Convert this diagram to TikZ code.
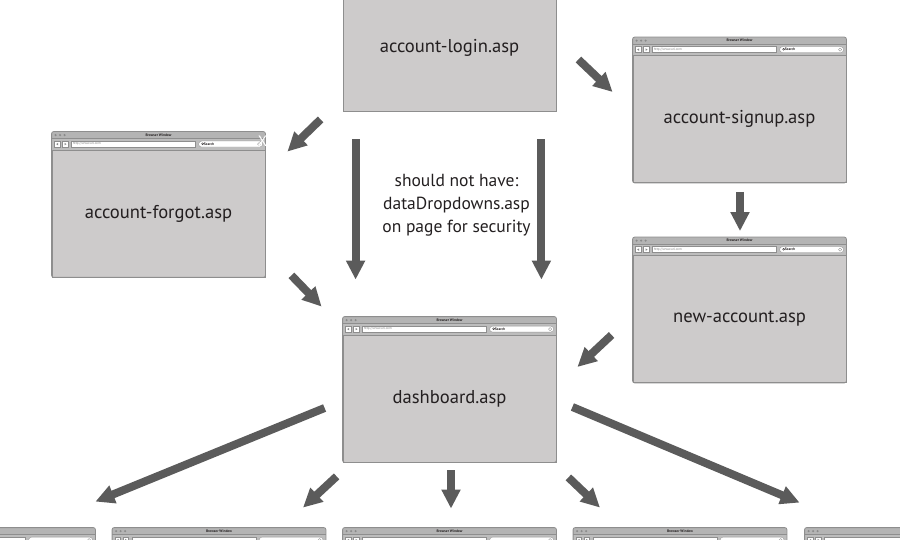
\documentclass[tikz,border=0pt]{standalone}
\usepackage{fontspec}
\setmainfont{PT Sans}
\usepackage{xcolor}
\usepackage{tikz}
\usetikzlibrary{arrows.meta,calc}

\definecolor{pagegray}{HTML}{CDCBCB}
\definecolor{framegray}{HTML}{8E8E8E}
\definecolor{titlegray}{HTML}{B4B4B4}
\definecolor{bargray}{HTML}{BDBDBD}
\definecolor{dotgray}{HTML}{8A8A8A}
\definecolor{arrowgray}{HTML}{5B5B5B}
\definecolor{textdark}{HTML}{231F20}

% browser chrome drawn on top of a page node
\newcommand{\browserframe}[1]{%
  \fill[titlegray] ($(#1.north west)+(0,-18)$) rectangle ($(#1.north east)+(0,-11)$);
  \fill[bargray] ($(#1.north west)+(0,-11)$) rectangle (#1.north east);
  \draw[framegray, line width=0.4pt] ($(#1.north west)+(0,-11)$) -- ($(#1.north east)+(0,-11)$);
  \foreach \dx in {4,8.5,13}
    \fill[dotgray] ($(#1.north west)+(\dx,-14.5)$) circle (1.2pt);
  \filldraw[fill=white, draw=framegray, line width=0.3pt] ($(#1.north west)+(3,-8.5)$) rectangle ($(#1.north west)+(8.5,-2.5)$);
  \filldraw[fill=white, draw=framegray, line width=0.3pt] ($(#1.north west)+(11,-8.5)$) rectangle ($(#1.north west)+(16.5,-2.5)$);
  \fill[dotgray] ($(#1.north west)+(4.6,-5.5)$) -- ($(#1.north west)+(6.6,-6.8)$) -- ($(#1.north west)+(6.6,-4.2)$) -- cycle;
  \fill[dotgray] ($(#1.north west)+(14.9,-5.5)$) -- ($(#1.north west)+(12.9,-6.8)$) -- ($(#1.north west)+(12.9,-4.2)$) -- cycle;
  \filldraw[fill=white, draw=framegray, line width=0.3pt] ($(#1.north west)+(20,-8.5)$) rectangle ($(#1.north west)+(144,-2.5)$);
  \filldraw[fill=white, draw=framegray, line width=0.3pt, rounded corners=3pt] ($(#1.north west)+(147,-8.5)$) rectangle ($(#1.north west)+(211,-2.5)$);
  \draw[framegray, line width=0.3pt] ($(#1.north west)+(207.5,-5.5)$) circle (1.6pt);
  \draw[framegray, line width=0.8pt, rounded corners=2pt] ($(#1.north west)+(0,-18)$) rectangle (#1.south east);
}
\newcommand{\browsertitle}[1]{%
  \node[tiny, font=\fontsize{3.6}{4}\selectfont\bfseries] (#1title) at ($(#1.north)+(0,-14.5)$) {Browser Window};
}
\newcommand{\browserfields}[1]{%
  \node[tiny, anchor=west, text=gray, font=\fontsize{3.4}{4}\selectfont] (#1url) at ($(#1.north west)+(21,-5.5)$) {http://www.url.com};
  \draw[textdark, line width=0.3pt] ($(#1.north west)+(151,-5.8)$) circle (1pt);
  \node[tiny, anchor=west, font=\fontsize{3.6}{4}\selectfont\bfseries] (#1search) at ($(#1.north west)+(152,-5.5)$) {Search};
}

\begin{document}
\begin{tikzpicture}[
  x=1pt, y=-1pt,
  page/.style={draw=framegray, line width=0.8pt, fill=pagegray, minimum width=213pt, minimum height=127pt,
    inner sep=0pt, text=textdark, font=\fontsize{18.6}{22}\selectfont},
  note/.style={align=center, text=textdark, font=\fontsize{17.5}{23}\selectfont},
  tiny/.style={inner sep=0pt, text=textdark},
  blk/.style={arrowgray, line width=8pt, -{Triangle[length=19pt,width=18pt]}}
]
\useasboundingbox (0,0) rectangle (900,540);
\clip (0,0) rectangle (900,540);

\node[page] (login) at (449.5,47.5) {account-login.asp};
\node[page] (signup) at (739.5,119) {account-signup.asp};
\node[page] (forgot) at (158.5,213.5) {account-forgot.asp};
\node[page] (newacc) at (739.5,319) {new-account.asp};
\node[page] (dash) at (449.5,398.5) {dashboard.asp};
\foreach \i/\x in {1/-11.5,2/219,3/449.5,4/680,5/911.5}
  \node[page] (sub\i) at (\x,609.5) {};

\foreach \p in {signup,forgot,newacc,dash,sub1,sub2,sub3,sub4,sub5}
  {\browserframe{\p}}
\foreach \p in {signup,forgot,newacc,dash}
  {\browsertitle{\p}\browserfields{\p}}
\foreach \p in {sub2,sub3,sub4}
  {\browsertitle{\p}}

\node[text=white, inner sep=0pt, font=\fontsize{15}{15}\selectfont] (forgotx) at ($(forgot.north east)+(-3,-8)$) {X};

\node[note] (warn) at (456.5,205) {should not have:\\dataDropdowns.asp\\on page for security};

\draw[blk] ($(login.south west)+(-22,8)$) -- ($(forgot.north east)+(22,2)$);
\draw[blk] ($(login.east)+(22,12)$) -- ($(signup.west)+(-20,-27)$);
\draw[blk] ($(login.south west)+(13,28)$) -- ($(dash.north west)+(13,-55)$);
\draw[blk] ($(login.south east)+(-15,28)$) -- ($(dash.north east)+(-15,-55)$);
\draw[blk] ($(forgot.south east)+(26,-2)$) -- ($(dash.north west)+(-21,-28)$);
\draw[blk] ($(signup.south)+(0.5,9)$) -- ($(newacc.north)+(0.5,-24)$);
\draw[blk] ($(newacc.west)+(-21,16)$) -- ($(dash.east)+(21,-31.5)$);
\draw[blk] ($(dash.west)+(-18,9.5)$) -- ($(sub1.north east)+(0,-44)$);
\draw[blk] ($(dash.south west)+(-6,14)$) -- ($(sub2.north)+(84,-38)$);
\draw[blk] ($(dash.south)+(1.5,8)$) -- ($(sub3.north)+(1.5,-37)$);
\draw[blk] ($(dash.south east)+(12,15)$) -- ($(sub4.north)+(-80,-38)$);
\draw[blk] ($(dash.east)+(16,8.5)$) -- ($(sub5.north west)+(-5,-43)$);
\end{tikzpicture}
\end{document}
